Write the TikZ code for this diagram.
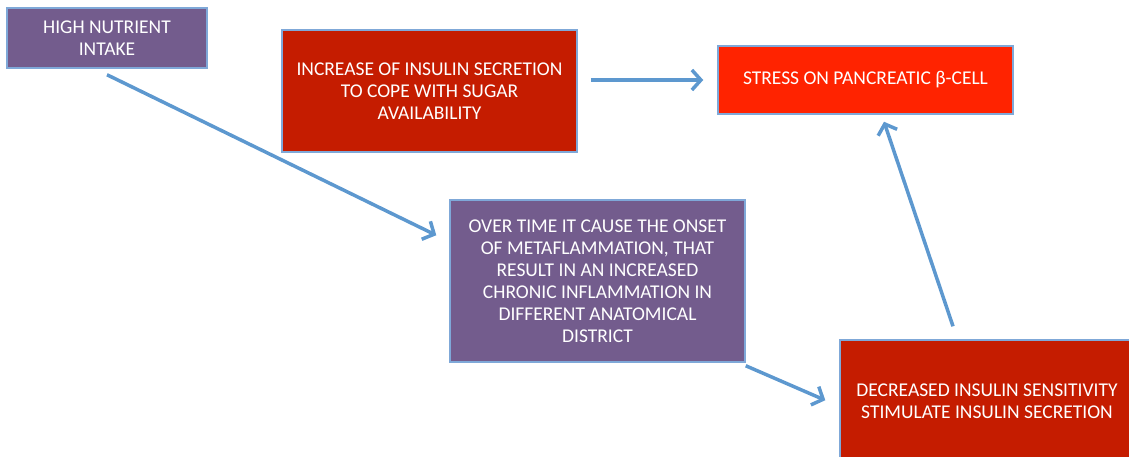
\documentclass[tikz,border=0pt]{standalone}
\usepackage{fontspec}
\setmainfont{Carlito}
\usetikzlibrary{arrows.meta}
\definecolor{purp}{HTML}{735C8D}
\definecolor{dred}{HTML}{C51C00}
\definecolor{bred}{HTML}{FF2300}
\definecolor{bord}{HTML}{7FA8D8}
\definecolor{arr}{HTML}{5D98CF}
\tikzset{
  box/.style={draw=bord, line width=1.5pt, text=white, align=center, inner sep=0pt,
    font=\fontsize{19.5}{22}\selectfont},
  conn/.style={draw=arr, line width=3.5pt, -{Straight Barb[length=9pt,width=20pt,line width=3.5pt]}}
}
\begin{document}
\begin{tikzpicture}[x=1pt,y=-1pt]
\useasboundingbox (0,0) rectangle (1129,457);
\begin{scope}
\clip (0,0) rectangle (1129,457);
\node[box, fill=purp, minimum width=200pt, minimum height=60pt] (high) at (107,38) {HIGH NUTRIENT\\INTAKE};
\node[box, fill=dred, minimum width=295pt, minimum height=122pt] (inc) at (429.5,91) {INCREASE OF INSULIN SECRETION\\TO COPE WITH SUGAR\\AVAILABILITY};
\node[box, fill=bred, minimum width=295pt, minimum height=68pt] (stress) at (865.5,80) {STRESS ON PANCREATIC β-CELL};
\node[box, fill=purp, minimum width=295pt, minimum height=162pt] (over) at (597.5,281) {OVER TIME IT CAUSE THE ONSET\\OF METAFLAMMATION, THAT\\RESULT IN AN INCREASED\\CHRONIC INFLAMMATION IN\\DIFFERENT ANATOMICAL\\DISTRICT};
\node[box, fill=dred, minimum width=294pt, minimum height=122pt] (dec) at (987,401) {DECREASED INSULIN SENSITIVITY\\STIMULATE INSULIN SECRETION};
\end{scope}
\coordinate (a1s) at ([shift={(0,6)}]high.south);
\coordinate (a1e) at ([shift={(-13,36)}]over.north west);
\coordinate (a2s) at ([shift={(13,-11)}]inc.east);
\coordinate (a2e) at ([shift={(-14,0)}]stress.west);
\coordinate (a3s) at ([shift={(0,3)}]over.south east);
\coordinate (a3e) at ([shift={(-14,61)}]dec.north west);
\coordinate (a4s) at ([shift={(-34,-13)}]dec.north);
\coordinate (a4e) at ([shift={(18.5,7)}]stress.south);
\draw[conn] (a1s) -- (a1e);
\draw[conn] (a2s) -- (a2e);
\draw[conn] (a3s) -- (a3e);
\draw[conn] (a4s) -- (a4e);
\end{tikzpicture}
\end{document}
